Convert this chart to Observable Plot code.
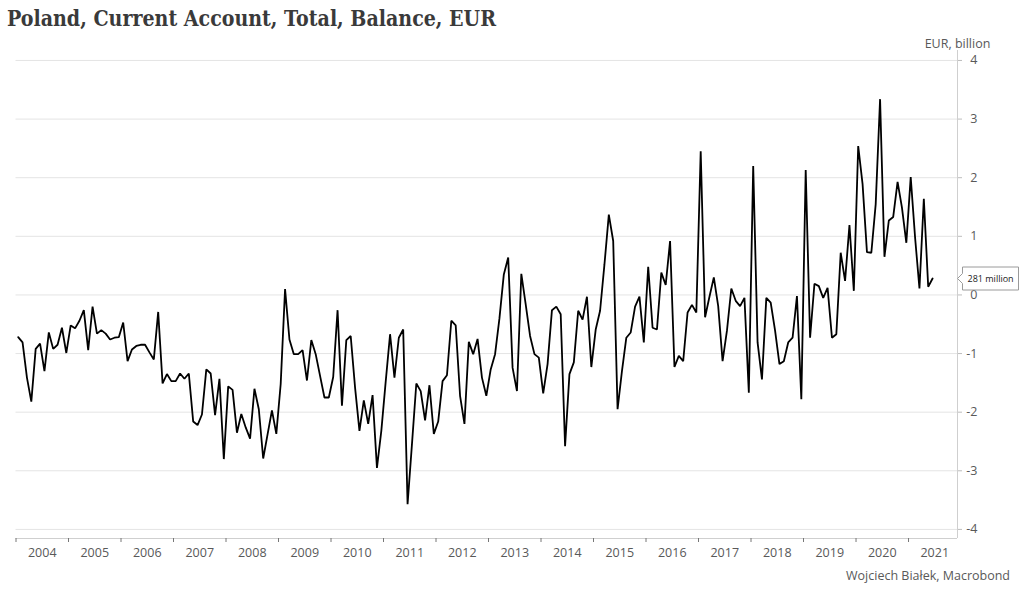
<!DOCTYPE html>
<html>
<head>
<meta charset="utf-8">
<script src="https://cdn.jsdelivr.net/npm/d3@7"></script>
<script src="https://cdn.jsdelivr.net/npm/@observablehq/plot@0.6"></script>
<style>
  html, body { margin: 0; padding: 0; background: #fff; }
  body { width: 1024px; height: 594px; overflow: hidden; position: relative; font-family: "Open Sans", sans-serif; }
  #chart { position: absolute; left: 0; top: 0; }
  #title { position: absolute; left: 7px; top: 7px; font-family: "DejaVu Serif", serif; font-weight: bold; font-size: 22px; line-height: 1; color: #3a3a3a; white-space: nowrap; transform-origin: 0 0; }
  #credit { position: absolute; right: 14px; top: 570px; font-size: 12.5px; line-height: 1; color: #595959; white-space: nowrap; }
</style>
</head>
<body>
<div id="chart"></div>
<div id="title"></div>
<div id="credit"></div>
<script>
// ---- Data (monthly, EUR billion), Jan 2004 .. Jun 2021 ----
const titleText = "Poland, Current Account, Total, Balance, EUR";
const unitLabel = "EUR, billion";
const creditText = "Wojciech Białek, Macrobond";
const calloutLabel = "281 million";
const startYear = 2004;
const years = [2004, 2005, 2006, 2007, 2008, 2009, 2010, 2011, 2012, 2013, 2014, 2015, 2016, 2017, 2018, 2019, 2020, 2021];
const yTicks = [-4, -3, -2, -1, 0, 1, 2, 3, 4];
const balance = [
  -0.72, -0.81, -1.41, -1.82, -0.92, -0.83, -1.30, -0.64, -0.92, -0.85, -0.56, -0.99, // 2004
  -0.52, -0.57, -0.44, -0.26, -0.94, -0.20, -0.66, -0.60, -0.66, -0.76, -0.73, -0.72, // 2005
  -0.47, -1.13, -0.93, -0.87, -0.85, -0.85, -0.98, -1.10, -0.29, -1.51, -1.35, -1.47, // 2006
  -1.47, -1.34, -1.43, -1.34, -2.16, -2.22, -2.04, -1.27, -1.34, -2.05, -1.43, -2.80, // 2007
  -1.56, -1.62, -2.35, -2.03, -2.26, -2.45, -1.60, -1.95, -2.79, -2.38, -1.97, -2.37, // 2008
  -1.52,  0.10, -0.76, -1.01, -1.01, -0.94, -1.46, -0.77, -1.01, -1.38, -1.75, -1.75, // 2009
  -1.40, -0.26, -1.89, -0.77, -0.70, -1.58, -2.32, -1.80, -2.20, -1.71, -2.95, -2.32, // 2010
  -1.48, -0.67, -1.41, -0.73, -0.59, -3.57, -2.55, -1.51, -1.64, -2.14, -1.54, -2.37, // 2011
  -2.16, -1.47, -1.37, -0.44, -0.52, -1.72, -2.20, -0.80, -1.01, -0.75, -1.41, -1.72, // 2012
  -1.27, -1.01, -0.40,  0.35,  0.64, -1.24, -1.64,  0.36, -0.16, -0.70, -1.01, -1.07, // 2013
  -1.68, -1.18, -0.26, -0.20, -0.33, -2.58, -1.35, -1.15, -0.27, -0.42, -0.03, -1.23, // 2014
  -0.59, -0.27,  0.52,  1.37,  0.92, -1.95, -1.30, -0.73, -0.64, -0.20, -0.03, -0.81, // 2015
   0.48, -0.56, -0.59,  0.38,  0.17,  0.92, -1.23, -1.04, -1.13, -0.30, -0.17, -0.30, // 2016
   2.45, -0.38, -0.03,  0.30, -0.19, -1.13, -0.61,  0.11, -0.10, -0.19, -0.05, -1.67, // 2017
   2.20, -0.81, -1.44, -0.05, -0.13, -0.61, -1.18, -1.13, -0.81, -0.73, -0.02, -1.78, // 2018
   2.13, -0.73,  0.19,  0.15, -0.05,  0.12, -0.73, -0.67,  0.72,  0.24,  1.19,  0.07, // 2019
   2.54,  1.89,  0.73,  0.72,  1.55,  3.34,  0.65,  1.27,  1.33,  1.93,  1.49,  0.89, // 2020
   2.01,  0.98,  0.11,  1.64,  0.14,  0.281                                            // 2021
];

// ---- Build ----
const xMin = 2004, xMax = 2021.933;
const yMin = -4.155, yMax = 4.17;
const data = balance.map((v, i) => ({ t: startYear + (i + 0.5) / 12, v }));
const last = data[data.length - 1];

const chart = Plot.plot({
  width: 1024,
  height: 594,
  marginLeft: 15.5,
  marginRight: 67,
  marginTop: 50,
  marginBottom: 56,
  style: { fontFamily: '"Open Sans", sans-serif', fontSize: "12.5px", color: "#595959", background: "transparent" },
  x: { type: "linear", domain: [xMin, xMax], label: null },
  y: { domain: [yMin, yMax], label: null },
  marks: [
    Plot.ruleY(yTicks, { stroke: "#e4e4e4", strokeWidth: 1 }),
    Plot.ruleY([yMin], { stroke: "#cfcfcf", strokeWidth: 1 }),
    Plot.ruleX([xMax], { stroke: "#cfcfcf", strokeWidth: 1 }),
    Plot.axisX(years, { anchor: "bottom", label: null, tickSize: 4, fill: "none", stroke: "#777" }),
    Plot.axisX(years.map(y => y + 0.5), { anchor: "bottom", label: null, tickSize: 0, tickPadding: 10, tickFormat: d => String(Math.floor(d)), fill: "#595959" }),
    Plot.axisY(yTicks, { anchor: "right", label: null, tickSize: 4, fill: "none", stroke: "#bdbdbd" }),
    Plot.text(yTicks, { x: () => xMax, y: d => d, text: d => String(d), textAnchor: "end", dx: 20, fill: "#595959" }),
    Plot.text([unitLabel], { x: () => xMax, frameAnchor: "top", dy: -11, text: d => d, textAnchor: "middle", fill: "#595959" }),
    Plot.line(data, { x: "t", y: "v", stroke: "#000", strokeWidth: 1.8, strokeLinejoin: "miter" }),
    Plot.tip([last], { x: () => xMax, y: "v", title: () => calloutLabel, anchor: "left", pointerSize: 10, textPadding: 5, fontSize: 9, fill: "white", stroke: "#9a9a9a", pathFilter: "none" })
  ]
});
document.getElementById("chart").appendChild(chart);
const tipG = chart.querySelector('g[aria-label="tip"]');
if (tipG) tipG.querySelectorAll("text, tspan").forEach(t => t.setAttribute("fill", "#222"));

const title = document.getElementById("title");
title.textContent = titleText;
const w = title.getBoundingClientRect().width;
title.style.transform = `scaleX(${489 / w})`;
document.getElementById("credit").textContent = creditText;
</script>
</body>
</html>
